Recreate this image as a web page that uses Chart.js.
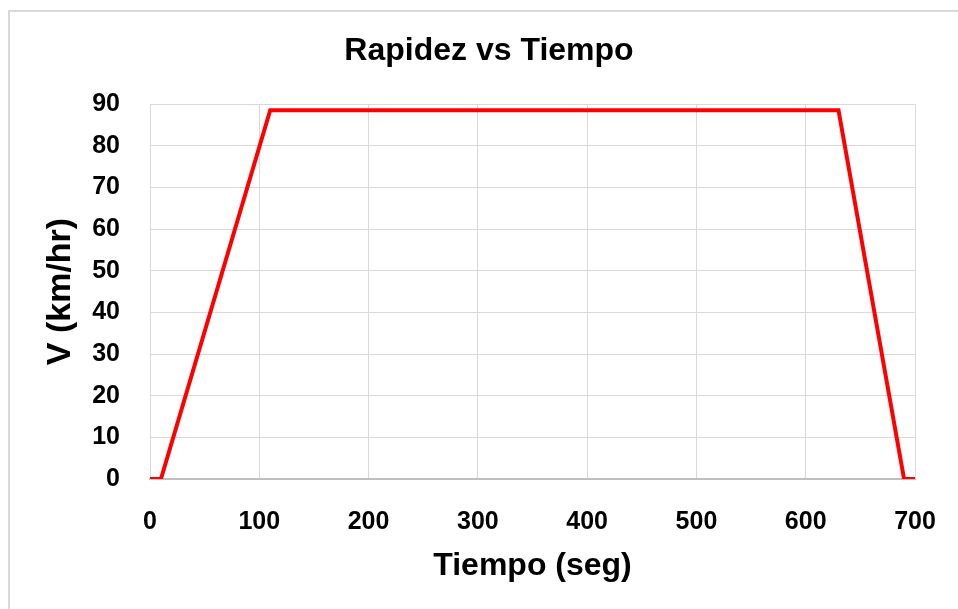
<!DOCTYPE html>
<html>
<head>
<meta charset="utf-8">
<script src="https://cdn.jsdelivr.net/npm/chart.js@4"></script>
<style>
  body { margin: 0; background: #fff; overflow: hidden; }
  #frame { position: absolute; left: 8px; top: 10px; width: 970px; height: 620px; border: 2px solid #d9d9d9; }
  #wrap { position: absolute; left: 0; top: 0; width: 958px; height: 609px; }
</style>
</head>
<body>
<div id="frame"></div>
<div id="wrap"><canvas id="chartCanvas"></canvas></div>
<script>
// datos del grafico
const tiempo = [0, 10, 110, 630, 690, 700];
const rapidez = [0, 0, 88.5, 88.5, 0, 0];
const xTicks = [0, 100, 200, 300, 400, 500, 600, 700];
const yTicks = [0, 10, 20, 30, 40, 50, 60, 70, 80, 90];

const puntos = tiempo.map((t, i) => ({ x: t, y: rapidez[i] }));

const fam = 'Liberation Sans, Arial, sans-serif';
const tickFont = { family: fam, size: 25, weight: 'bold' };

const ctx = document.getElementById('chartCanvas').getContext('2d');
new Chart(ctx, {
    type: 'line',
    data: {
        datasets: [{
            data: puntos,
            borderColor: '#ff0000',
            borderWidth: 4,
            pointRadius: 0,
            tension: 0,
            fill: false
        }]
    },
    options: {
        responsive: true,
        maintainAspectRatio: false,
        animation: false,
        layout: { padding: { left: 63, right: 43, top: 20, bottom: 20 } },
        plugins: {
            legend: { display: false },
            tooltip: { enabled: false },
            title: {
                display: true,
                text: 'Rapidez vs Tiempo',
                color: '#000',
                font: { family: fam, size: 32, weight: 'bold' },
                padding: { top: 12, bottom: 33.6 }
            }
        },
        scales: {
            x: {
                type: 'linear',
                min: xTicks[0],
                max: xTicks[xTicks.length - 1],
                afterBuildTicks: (s) => { s.ticks = xTicks.map(v => ({ value: v })); },
                afterFit: (s) => { s.height = 110; s.paddingLeft = 0; s.paddingRight = 0; },
                ticks: { color: '#000', font: tickFont, padding: 28, maxRotation: 0 },
                grid: { color: '#d9d9d9', lineWidth: 1, drawTicks: false },
                border: { color: '#bfbfbf', width: 2 },
                title: { display: true, text: 'Tiempo (seg)', color: '#000', font: { family: fam, size: 32, weight: 'bold' }, padding: { top: 4, bottom: 4 } }
            },
            y: {
                min: yTicks[0],
                max: yTicks[yTicks.length - 1],
                afterBuildTicks: (s) => { s.ticks = yTicks.map(v => ({ value: v })); },
                afterFit: (s) => { s.width = 87; },
                ticks: { color: '#000', font: tickFont, padding: 30 },
                grid: { color: '#d9d9d9', lineWidth: 1, drawTicks: false },
                border: { color: '#d9d9d9', width: 1 },
                title: { display: true, text: 'V (km/hr)', color: '#000', font: { family: fam, size: 34, weight: 'bold' }, padding: { top: -23, bottom: 0 } }
            }
        }
    }
});
</script>
</body>
</html>
